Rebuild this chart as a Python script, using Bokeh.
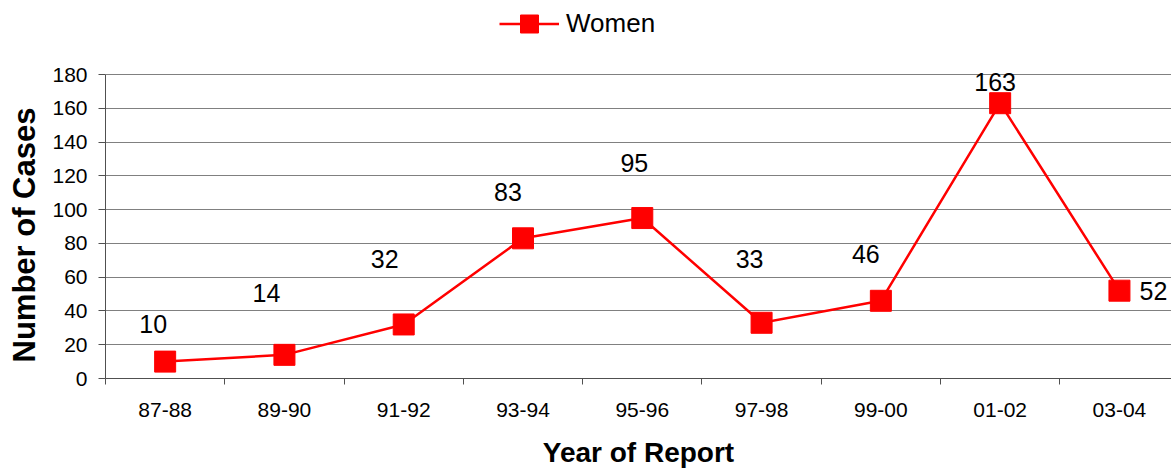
from bokeh.plotting import figure
from bokeh.models import Range1d, FixedTicker, ColumnDataSource, LabelSet, Legend, LegendItem, Title
from bokeh.core.properties import value
from bokeh.embed import file_html
from bokeh.resources import INLINE
import numpy as np

# ---- data ----
years = ["87-88", "89-90", "91-92", "93-94", "95-96", "97-98", "99-00", "01-02", "03-04"]
women = [10, 14, 32, 83, 95, 33, 46, 163, 52]
y_ticks = [0, 20, 40, 60, 80, 100, 120, 140, 160, 180]

# label placement (screen px offsets, style only)
label_dx = [-12, -18, -19, -15, -8, -12, -15, -5, 34]
label_dy = [38, 62, 65, 46, 55, 64, 47, 21, 0]

RED = "#FF0000"
FONT = "Liberation Sans"

# layout (px)
W, H = 1171, 470
LEFT, BOTTOM = 104, 92
FRAME_H = H - BOTTOM          # frame reaches the top of the canvas
AXIS_TOP_PX = 74              # where the top tick (180) sits
CAT_W = 119.4                 # width of one category in px

x = np.arange(len(years)) + 0.5
src = ColumnDataSource(dict(x=x, y=women, label=[str(v) for v in women],
                            dx=label_dx, dy=label_dy))

y_end = y_ticks[-1] * FRAME_H / (FRAME_H - AXIS_TOP_PX)
x_end = (W - LEFT) / CAT_W

p = figure(width=W, height=H, output_backend="svg", toolbar_location=None,
           x_range=Range1d(0, x_end), y_range=Range1d(0, y_end),
           min_border_left=LEFT, min_border_right=0, min_border_top=0,
           min_border_bottom=BOTTOM)
p.outline_line_color = None
p.background_fill_color = "white"
p.border_fill_color = "white"

line_r = p.line("x", "y", source=src, line_color=RED, line_width=2.5)
sq_r = p.scatter("x", "y", source=src, marker="square", size=21,
                 fill_color=RED, line_color=RED)

labels = LabelSet(x="x", y="y", text="label", source=src, x_offset="dx", y_offset="dy",
                  text_align="center", text_baseline="middle",
                  text_font=value(FONT), text_font_size=value("25px"), text_color="black")
p.add_layout(labels)

# x axis
xa = p.xaxis[0]
xa.ticker = FixedTicker(ticks=list(x), minor_ticks=list(range(len(years) + 1)))
xa.major_label_overrides = {float(v): years[i] for i, v in enumerate(x)}
xa.major_tick_out = 0
xa.major_tick_in = 0
xa.minor_tick_out = 6
xa.minor_tick_in = 0
xa.minor_tick_line_color = "#505050"
xa.axis_line_color = "#505050"
xa.major_label_text_font = FONT
xa.major_label_text_font_size = "21px"
xa.major_label_text_color = "black"
xa.major_label_standoff = 18
xa.axis_label = "Year of Report"
xa.axis_label_text_font = FONT
xa.axis_label_text_font_style = "bold"
xa.axis_label_text_font_size = "28px"
xa.axis_label_text_color = "black"
xa.axis_label_standoff = 17

# y axis
ya = p.yaxis[0]
ya.ticker = FixedTicker(ticks=y_ticks)
ya.bounds = (y_ticks[0], y_ticks[-1])
ya.major_tick_out = 7
ya.major_tick_in = 0
ya.minor_tick_out = 0
ya.minor_tick_in = 0
ya.major_tick_line_color = "#505050"
ya.axis_line_color = "#505050"
ya.major_label_text_font = FONT
ya.major_label_text_font_size = "21px"
ya.major_label_text_color = "black"
ya.major_label_standoff = 11

# y axis title, placed so that it is centred on the 0-180 span
ytitle = Title(text="Number of Cases", align="left", offset=16, vertical_align="top",
               standoff=12, text_font=FONT, text_font_style="bold",
               text_font_size="31px", text_color="black")
p.add_layout(ytitle, "left")

p.xgrid.grid_line_color = None
p.ygrid.ticker = FixedTicker(ticks=y_ticks)
p.ygrid.grid_line_color = "#808080"
p.ygrid.grid_line_width = 1

legend = Legend(items=[LegendItem(label="Women", renderers=[line_r, sq_r])],
                location=(394, FRAME_H - 46), orientation="horizontal",
                glyph_width=60, glyph_height=45, label_standoff=7,
                padding=0, spacing=0, margin=0,
                border_line_color=None, background_fill_alpha=0,
                label_text_font=FONT, label_text_font_size="26px", label_text_color="black")
p.add_layout(legend, "center")

open("out.html", "w").write(file_html(p, INLINE))
